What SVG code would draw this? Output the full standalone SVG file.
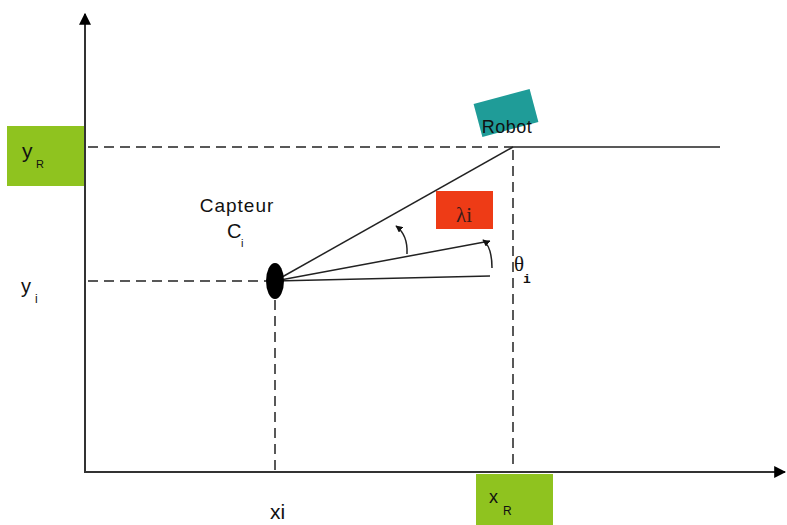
<svg xmlns="http://www.w3.org/2000/svg" width="787" height="525" viewBox="0 0 787 525">
<style>
.ax{stroke:#333;stroke-width:2;fill:none}
.ln{stroke:#222;stroke-width:1.5;fill:none}
.ds{stroke:#222;stroke-width:1.5;fill:none;stroke-dasharray:10,6}
.t{font-family:"Liberation Sans",Arial,sans-serif;fill:#111}
.g{fill:#8fc31f}
</style>
<defs>
<marker id="ah" viewBox="0 0 10 10" refX="9" refY="5" markerWidth="7" markerHeight="7" orient="auto" markerUnits="userSpaceOnUse"><path d="M0,0 L10,5 L0,10 z" fill="#111"/></marker>
<marker id="big" viewBox="0 0 10 10" refX="9" refY="5" markerWidth="12" markerHeight="12" orient="auto" markerUnits="userSpaceOnUse"><path d="M0,0 L10,5 L0,10 z" fill="#000"/></marker>
</defs>
<rect width="787" height="525" fill="#fff"/>
<g id="connectors">
<line class="ax" x1="85" y1="473" x2="85" y2="14" marker-end="url(#big)"/>
<line class="ax" x1="84" y1="472" x2="785" y2="472" marker-end="url(#big)"/>
<line class="ds" x1="88" y1="147" x2="513" y2="147"/>
<line class="ln" x1="513" y1="147" x2="720" y2="147"/>
<line class="ds" x1="513" y1="150" x2="513" y2="470"/>
<line class="ds" x1="88" y1="281" x2="266" y2="281"/>
<line class="ds" x1="275" y1="300" x2="275" y2="470"/>
<line class="ln" x1="275" y1="281" x2="513" y2="147"/>
<line class="ln" x1="275" y1="281" x2="490" y2="241"/>
<line class="ln" x1="275" y1="281" x2="490" y2="276"/>
<path class="ln" d="M407,254 Q408,235 396,226" marker-end="url(#ah)"/>
<path class="ln" d="M492,268 Q492,247 483,240" marker-end="url(#ah)"/>
</g>
<g id="yR">
<rect class="g" x="7" y="126" width="77" height="60"/>
<text class="t" x="22" y="158" font-size="21">y</text>
<text class="t" x="36" y="168" font-size="11">R</text>
</g>
<g id="xR">
<rect class="g" x="476" y="474" width="77" height="51"/>
<text class="t" x="489" y="503" font-size="18">x</text>
<text class="t" x="503" y="515" font-size="12">R</text>
</g>
<g id="robot">
<rect x="477" y="96" width="58" height="34" fill="#1f9c98" transform="rotate(-15 506 113)"/>
<text class="t" x="507" y="133" font-size="18" letter-spacing="0.5" text-anchor="middle" fill="#1a2a3a">Robot</text>
</g>
<g id="capteur">
<ellipse cx="275" cy="281" rx="9" ry="18" fill="#000"/>
<text class="t" x="237" y="212" font-size="19" letter-spacing="1" text-anchor="middle">Capteur</text>
<text class="t" x="227" y="238" font-size="20">C</text>
<text class="t" x="241" y="247" font-size="11">i</text>
</g>
<g id="lambda">
<rect x="436" y="191" width="57" height="38" fill="#ee3b16"/>
<text x="464" y="222" font-size="21" text-anchor="middle" font-family="Liberation Serif,serif" fill="#3a1a1a">λi</text>
</g>
<g id="theta">
<text x="514" y="271" font-size="21" font-family="Liberation Serif,serif" fill="#111">θ</text>
<text x="523" y="283" font-size="13" font-family="Liberation Mono,monospace" font-weight="bold" fill="#111">i</text>
</g>
<g id="yi">
<text class="t" x="21" y="293" font-size="20">y</text>
<text class="t" x="35" y="303" font-size="12">i</text>
</g>
<g id="xi">
<text class="t" x="270" y="519" font-size="21">xi</text>
</g>
</svg>
